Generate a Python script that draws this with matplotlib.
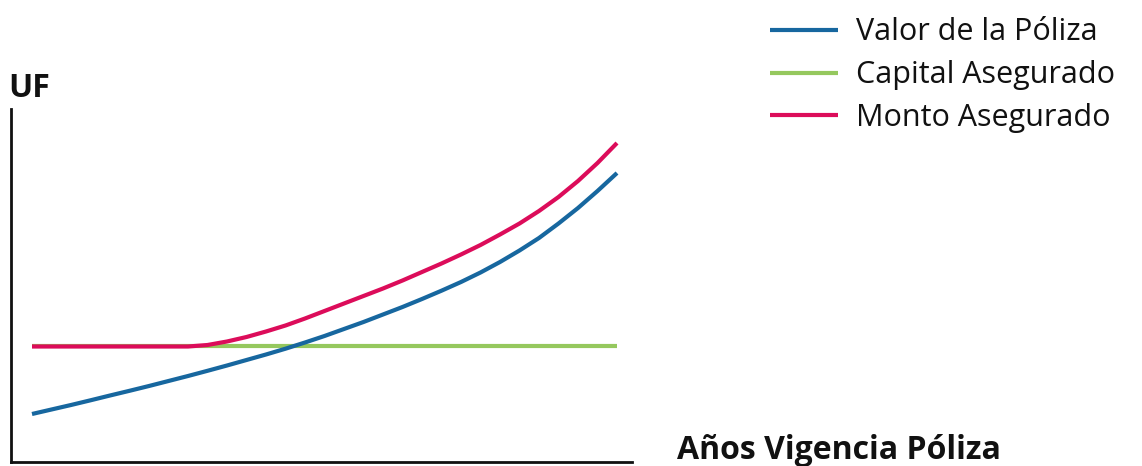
import matplotlib
matplotlib.use("Agg")
import matplotlib.pyplot as plt

years = list(range(0, 31))
valor_poliza = [49, 53.5, 58, 62.7, 67.5, 72.2, 77, 82, 87, 92.2, 97.5, 103, 108.5, 114.3,
                120.5, 127, 134, 141, 148.5, 156, 164, 172.3, 181, 190.5, 201, 212.5, 225,
                239.5, 255, 272, 290]
capital_asegurado = [117.5] * len(years)
monto_asegurado = [116.5, 116.5, 116.5, 116.5, 116.5, 116.5, 116.5, 116.5, 116.5, 118,
                   121.5, 126, 131.5, 137.5, 144.5, 152, 159.5, 167, 174.5, 182.5, 191,
                   199.5, 208.5, 218, 228.5, 239.5, 252, 266, 282, 300, 320]

labels = ["Valor de la Póliza", "Capital Asegurado", "Monto Asegurado"]
colors = ["#17679f", "#95c85e", "#dc0c5a"]

W, H = 1142, 466
fig = plt.figure(figsize=(W / 100, H / 100), dpi=100)
ax = fig.add_axes([11 / W, 4 / H, (632 - 11) / W, (462 - 109) / H])

lw = 3.0
l1, = ax.plot(years, valor_poliza, color=colors[0], lw=lw, solid_capstyle="butt", zorder=3)
l2, = ax.plot(years, capital_asegurado, color=colors[1], lw=lw, solid_capstyle="butt", zorder=2)
l3, = ax.plot(years, monto_asegurado, color=colors[2], lw=lw, solid_capstyle="butt", zorder=4)

ax.set_xlim(-21 / 19.5, 600 / 19.5)
ax.set_ylim(1, 354)
for s in ["top", "right"]:
    ax.spines[s].set_visible(False)
for s in ["left", "bottom"]:
    ax.spines[s].set_linewidth(2.0)
    ax.spines[s].set_color("#111111")
ax.set_xticks([])
ax.set_yticks([])

font = "Open Sans"
fig.text(8 / W, 1 - 97 / H, "UF", fontsize=23, fontweight="bold", family=font,
         color="#111111", ha="left", va="baseline")
fig.text(677 / W, 1 - 459 / H, "Años Vigencia Póliza", fontsize=23, fontweight="bold",
         family=font, color="#111111", ha="left", va="baseline")

leg = fig.legend([l1, l2, l3], labels, loc="upper left",
                 bbox_to_anchor=(749 / W, 1 + 4 / H), frameon=False,
                 prop={"family": font, "size": 22}, handlelength=2.2,
                 handletextpad=0.6, labelspacing=0.42, borderpad=0.2)
for t in leg.get_texts():
    t.set_color("#111111")
for h in leg.legend_handles:
    h.set_linewidth(3.0)

fig.savefig("out.png", dpi=100, facecolor="white")
